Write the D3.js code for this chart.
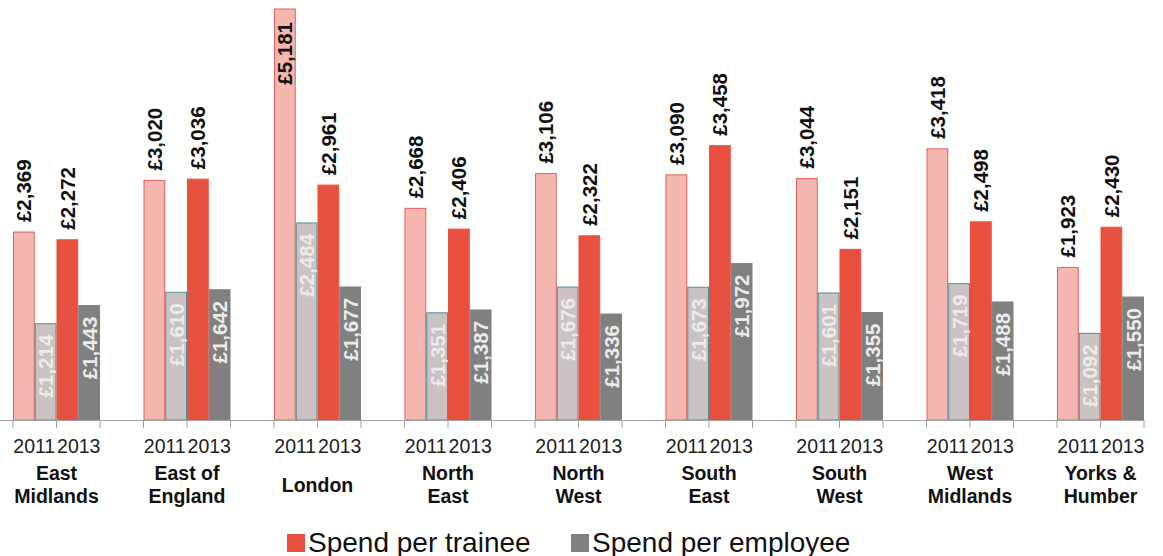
<!DOCTYPE html>
<html>
<head>
<meta charset="utf-8">
<script src="https://cdn.jsdelivr.net/npm/d3@7"></script>
<style>
    body { margin: 0; background: #fff; }
    svg { display: block; font-family: "Liberation Sans", Arial, sans-serif; }
</style>
</head>
<body>
<svg id="chart" width="1163" height="556"></svg>
<script>
var regions = ['East Midlands', 'East of England', 'London', 'North East', 'North West', 'South East', 'South West', 'West Midlands', 'Yorks & Humber'];
var regionLines = [['East', 'Midlands'], ['East of', 'England'], ['London'], ['North', 'East'], ['North', 'West'], ['South', 'East'], ['South', 'West'], ['West', 'Midlands'], ['Yorks &', 'Humber']];
var years = ['2011', '2013'];
var trainee2011 = [2369, 3020, 5181, 2668, 3106, 3090, 3044, 3418, 1923];
var employee2011 = [1214, 1610, 2484, 1351, 1676, 1673, 1601, 1719, 1092];
var trainee2013 = [2272, 3036, 2961, 2406, 2322, 3458, 2151, 2498, 2430];
var employee2013 = [1443, 1642, 1677, 1387, 1336, 1972, 1355, 1488, 1550];
var legendNames = ['Spend per trainee', 'Spend per employee'];

var svg = d3.select("#chart");

// series: fill, stroke, kind
var series = [
    { key: 't11', values: trainee2011, fill: '#f5b7af', stroke: '#e0625a', kind: 'trainee' },
    { key: 'e11', values: employee2011, fill: '#cbc3c3', stroke: '#4a9196', kind: 'employee' },
    { key: 't13', values: trainee2013, fill: '#e8513f', stroke: '#e8513f', kind: 'trainee' },
    { key: 'e13', values: employee2013, fill: '#808080', stroke: '#808080', kind: 'employee' }
];

var x0 = d3.scaleBand()
    .domain(regions)
    .range([-8.75, 1165.75])
    .paddingInner(1 / 3)
    .paddingOuter(1 / 6);

var x1 = d3.scaleBand()
    .domain(series.map(function(s) { return s.key; }))
    .range([0, x0.bandwidth()]);

var y = d3.scaleLinear()
    .domain([0, 5181])
    .range([420, 9]);

var fmt = function(v) { return '£' + d3.format(',')(v); };

var rows = [];
regions.forEach(function(r, i) {
    series.forEach(function(s) {
        rows.push({ region: r, key: s.key, value: s.values[i], s: s });
    });
});

var bars = svg.append("g").attr("class", "bars");
bars.selectAll("rect")
    .data(rows)
    .enter().append("rect")
    .attr("x", function(d) { return x0(d.region) + x1(d.key) + 0.5; })
    .attr("y", function(d) { return y(d.value); })
    .attr("width", x1.bandwidth() - 1)
    .attr("height", function(d) { return y(0) - y(d.value); })
    .attr("fill", function(d) { return d.s.fill; })
    .attr("stroke", function(d) { return d.s.stroke; })
    .attr("stroke-width", 1);

// axis line + ticks
var axis = svg.append("g").attr("class", "axis");
axis.append("line")
    .attr("x1", 0).attr("x2", x0(regions[regions.length - 1]) + x0.bandwidth())
    .attr("y1", y(0) + 0.5).attr("y2", y(0) + 0.5)
    .attr("stroke", "#a0a0a0").attr("stroke-width", 1.2);

var tickX = [];
regions.forEach(function(r) {
    tickX.push(x0(r), x0(r) + x1('t13'), x0(r) + x0.bandwidth());
});
axis.selectAll("line.tick")
    .data(tickX)
    .enter().append("line")
    .attr("class", "tick")
    .attr("x1", function(d) { return d; }).attr("x2", function(d) { return d; })
    .attr("y1", y(0)).attr("y2", y(0) + 8)
    .attr("stroke", "#a0a0a0");

// year labels
var yearRows = [];
regions.forEach(function(r) {
    yearRows.push({ x: x0(r) + x1('e11') - 0.5, t: years[0] });
    yearRows.push({ x: x0(r) + x1('e13') + 0.5, t: years[1] });
});
axis.selectAll("text.year")
    .data(yearRows)
    .enter().append("text")
    .attr("class", "year")
    .attr("x", function(d) { return d.x; })
    .attr("y", 453)
    .attr("text-anchor", "middle")
    .attr("font-size", 19.5)
    .attr("fill", "#222")
    .text(function(d) { return d.t; });

// region labels
var reg = axis.selectAll("text.region")
    .data(regions)
    .enter().append("text")
    .attr("class", "region")
    .attr("x", function(d) { return x0(d) + x0.bandwidth() / 2; })
    .attr("y", function(d, i) { return regionLines[i].length > 1 ? 480 : 491.5; })
    .attr("text-anchor", "middle")
    .attr("font-size", 19.5)
    .attr("font-weight", "bold")
    .attr("fill", "#111");
reg.each(function(d, i) {
    var t = d3.select(this);
    regionLines[i].forEach(function(line, j) {
        t.append("tspan")
            .attr("x", x0(d) + x0.bandwidth() / 2)
            .attr("dy", j === 0 ? 0 : 23)
            .text(line);
    });
});

// value labels
var labels = svg.append("g").attr("class", "labels");
labels.selectAll("text")
    .data(rows)
    .enter().append("text")
    .attr("transform", function(d) {
        var cx = x0(d.region) + x1(d.key) + x1.bandwidth() / 2;
        var top = y(d.value);
        var ty;
        if (d.s.kind === 'employee') ty = top + 11;
        else if (top < 80) ty = top + 13;
        else ty = top - 10;
        return 'translate(' + cx + ',' + ty + ') rotate(-90)';
    })
    .attr("text-anchor", function(d) {
        return (d.s.kind === 'employee' || y(d.value) < 80) ? 'end' : 'start';
    })
    .attr("dominant-baseline", "central")
    .attr("font-size", 20.5)
    .attr("font-weight", "bold")
    .attr("fill", function(d) { return d.s.kind === 'employee' ? '#ececec' : '#111'; })
    .text(function(d) { return fmt(d.value); });

// legend
var legend = svg.append("g").attr("class", "legend");
var legendItems = [
    { name: legendNames[0], color: '#e8513f', x: 287 },
    { name: legendNames[1], color: '#808080', x: 571 }
];
var li = legend.selectAll("g")
    .data(legendItems)
    .enter().append("g")
    .attr("transform", function(d) { return 'translate(' + d.x + ',0)'; });
li.append("rect")
    .attr("x", 0).attr("y", 534)
    .attr("width", 18).attr("height", 18)
    .attr("fill", function(d) { return d.color; });
li.append("text")
    .attr("x", 21).attr("y", 552)
    .attr("font-size", 28)
    .attr("fill", "#111")
    .text(function(d) { return d.name; });
</script>
</body>
</html>
